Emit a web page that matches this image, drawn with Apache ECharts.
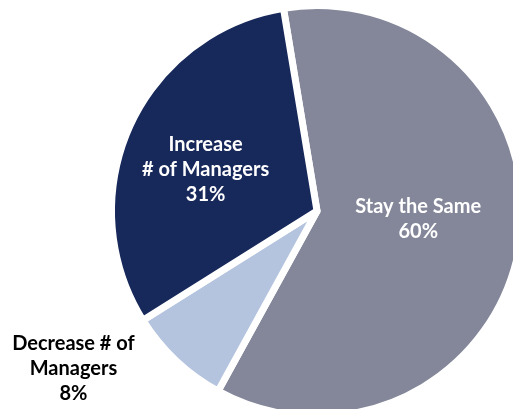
<!DOCTYPE html>
<html>
<head>
<meta charset="utf-8">
<title>Manager count outlook</title>
<script src="https://cdn.jsdelivr.net/npm/echarts@6/dist/echarts.min.js"></script>
<style>
  html, body { margin: 0; padding: 0; background: #ffffff; }
  #chart { width: 513px; height: 409px; }
</style>
</head>
<body>
<div id="chart"></div>
<script>
// Slices, in clockwise order from the top
const categories = ['Stay the Same', 'Decrease # of Managers', 'Increase # of Managers'];
const sliceLabels = ['Stay the Same', 'Decrease # of\nManagers', 'Increase\n# of Managers'];
const shares = [60, 8, 31];

// Styling
const sliceColors = ['#838799', '#B4C4DF', '#17285A'];
const labelColors = ['#ffffff', '#000000', '#ffffff'];
const labelShift = [[-3, -10], [-171, 81], [-15, 2]];

const chart = echarts.init(document.getElementById('chart'), null, { renderer: 'canvas' });

chart.setOption({
  animation: false,
  series: [{
    type: 'pie',
    center: [317, 211],
    radius: 205.5,
    startAngle: 99.4,
    clockwise: true,
    avoidLabelOverlap: false,
    itemStyle: { borderColor: '#ffffff', borderWidth: 7 },
    emphasis: { disabled: true },
    label: {
      show: true,
      position: 'inside',
      fontFamily: 'Lato',
      fontWeight: 'bold',
      fontSize: 20,
      lineHeight: 25,
      align: 'center',
      formatter: p => sliceLabels[p.dataIndex] + '\n' + p.value + '%'
    },
    labelLine: { show: false },
    labelLayout: p => ({ dx: labelShift[p.dataIndex][0], dy: labelShift[p.dataIndex][1] }),
    data: categories.map((name, i) => ({
      name: name,
      value: shares[i],
      itemStyle: { color: sliceColors[i] },
      label: { color: labelColors[i] }
    }))
  }]
});
</script>
</body>
</html>
